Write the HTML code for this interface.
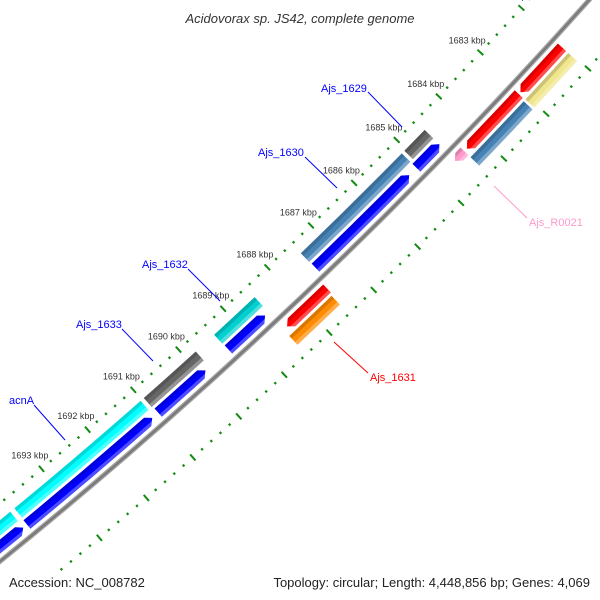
<!DOCTYPE html>
<html><head><meta charset="utf-8"><style>
html,body{margin:0;padding:0;background:#fff;overflow:hidden;}
svg{display:block;font-family:"Liberation Sans",sans-serif;}
</style></head><body>
<svg id="map" width="600" height="600" viewBox="0 0 600 600" xmlns="http://www.w3.org/2000/svg" overflow="hidden">
<defs id="defs"></defs>
<rect width="600" height="600" fill="#fff"/>
<g id="ticks"></g>
<g id="feats"></g>
<g id="backbone"></g>
<g id="labels"></g>
<g font-size="11">
  <line x1="368" y1="92" x2="402" y2="127" stroke="#0000ff"/>
  <text x="321" y="92" fill="#0000ff">Ajs_1629</text>
  <line x1="305" y1="157" x2="337" y2="188" stroke="#0000ff"/>
  <text x="258" y="156" fill="#0000ff">Ajs_1630</text>
  <line x1="188" y1="269" x2="220" y2="301" stroke="#0000ff"/>
  <text x="142" y="268" fill="#0000ff">Ajs_1632</text>
  <line x1="122" y1="329" x2="153" y2="361" stroke="#0000ff"/>
  <text x="76" y="328" fill="#0000ff">Ajs_1633</text>
  <line x1="34" y1="405" x2="65" y2="440" stroke="#0000ff"/>
  <text x="9" y="404" fill="#0000ff">acnA</text>
  <line x1="494" y1="186" x2="527" y2="218" stroke="#ff99cc"/>
  <text x="529" y="226" fill="#ff99cc">Ajs_R0021</text>
  <line x1="334" y1="342" x2="368" y2="373" stroke="#ff0000"/>
  <text x="370" y="381" fill="#ff0000">Ajs_1631</text>
</g>
<text x="300" y="23" text-anchor="middle" font-size="13" font-style="italic" fill="#333">Acidovorax sp. JS42, complete genome</text>
<text x="9" y="587" font-size="13" fill="#222">Accession: NC_008782</text>
<text x="590" y="587" text-anchor="end" font-size="13" fill="#222">Topology: circular; Length: 4,448,856 bp; Genes: 4,069</text>
</svg>
<script>
const featNames = ["red-a","red-b","ajs-r0021","ajs-1631-red","yellow-a","steelblue-a","orange-1631","ajs-1629","ajs-1630","ajs-1632","ajs-1633","acna","cyan-next","blue-a","blue-b","blue-c","blue-d","blue-e","blue-f"];
const featStart = [1682.03,1683.07,1684.36,1687.53,1682.03,1683.1,1687.56,1684.56,1685.1,1688.49,1689.81,1691.03,1693.85,1684.56,1685.27,1688.57,1689.9,1691.07,1693.85];
const featEnd   = [1683.03,1684.30,1684.58,1688.43,1683.06,1684.36,1688.51,1685.04,1687.44,1689.40,1690.96,1693.76,1695.0,1685.1,1687.43,1689.39,1690.94,1693.77,1695.0];
const featRing  = [1,1,1,1,2,2,2,-2,-2,-2,-2,-2,-2,-1,-1,-1,-1,-1,-1];
const featStrand= [1,1,1,1,0,0,0,0,0,0,0,0,0,-1,-1,-1,-1,-1,-1];
const featColor = ["#ff0000","#ff0000","#ff99cc","#ff0000","#f0e68c","#4682b4","#ff8c00","#666666","#4682b4","#00d0d0","#666666","#00ffff","#00ffff","#0000ff","#0000ff","#0000ff","#0000ff","#0000ff","#0000ff"];
const tickKbpMin = 1680, tickKbpMax = 1693.8;
const labelKbp = [1682,1683,1684,1685,1686,1687,1688,1689,1690,1691,1692,1693];

const CX=-3143.5, CY=-3326.9, R0=5000;
const NS="http://www.w3.org/2000/svg";
const ringR = {"-2":[4968,4980],"-1":[4983,4994],"1":[5006,5017],"2":[5020,5032]};
function ang(k){return (43+0.7*(k-1683))*Math.PI/180;}
function P(k,r){const a=ang(k);return [CX+r*Math.cos(a),CY+r*Math.sin(a)];}
function pt(p){return p[0].toFixed(2)+" "+p[1].toFixed(2);}
function sector(s,e,ri,ro){
  return "M"+pt(P(s,ro))+" A"+ro+" "+ro+" 0 0 1 "+pt(P(e,ro))+" L"+pt(P(e,ri))+" A"+ri+" "+ri+" 0 0 0 "+pt(P(s,ri))+" Z";
}
function arrow(s,e,ri,ro,strand){
  const h=Math.min(0.1,(e-s));const rm=(ri+ro)/2;
  if(strand<0){
    return "M"+pt(P(s+h,ro))+" A"+ro+" "+ro+" 0 0 1 "+pt(P(e,ro))+" L"+pt(P(e,ri))+" A"+ri+" "+ri+" 0 0 0 "+pt(P(s+h,ri))+" L"+pt(P(s,rm))+" Z";
  } else if(strand>0){
    return "M"+pt(P(s,ro))+" A"+ro+" "+ro+" 0 0 1 "+pt(P(e-h,ro))+" L"+pt(P(e,rm))+" L"+pt(P(e-h,ri))+" A"+ri+" "+ri+" 0 0 0 "+pt(P(s,ri))+" Z";
  }
  return sector(s,e,ri,ro);
}
const defs=document.getElementById("defs");
const fg=document.getElementById("feats");
for(let i=0;i<featNames.length;i++){
  const rr=ringR[String(featRing[i])];
  const d=arrow(featStart[i],featEnd[i],rr[0],rr[1],featStrand[i]);
  const cp=document.createElementNS(NS,"clipPath");cp.setAttribute("id","cp"+i);
  const cpp=document.createElementNS(NS,"path");cpp.setAttribute("d",d);cp.appendChild(cpp);defs.appendChild(cp);
  const g=document.createElementNS(NS,"g");
  
  
  const base=document.createElementNS(NS,"path");
  base.setAttribute("d",d);base.setAttribute("fill",featColor[i]);
  
  
  g.appendChild(base);
  const th=rr[1]-rr[0];
  const dark=document.createElementNS(NS,"path");
  dark.setAttribute("d",sector(featStart[i]-0.2,featEnd[i]+0.2,rr[0],rr[0]+th*0.3));
  dark.setAttribute("fill","#000");dark.setAttribute("fill-opacity","0.15");dark.setAttribute("clip-path","url(#cp"+i+")");
  
  
  g.appendChild(dark);
  const lite=document.createElementNS(NS,"path");
  lite.setAttribute("d",sector(featStart[i]-0.2,featEnd[i]+0.2,rr[1]-th*0.3,rr[1]));
  lite.setAttribute("fill","#fff");lite.setAttribute("fill-opacity","0.3");lite.setAttribute("clip-path","url(#cp"+i+")");
  
  
  g.appendChild(lite);
  fg.appendChild(g);
}
const bb=document.getElementById("backbone");
[[5,"#a8a8a8"],[2.5,"#7a7a7a"]].forEach(function(s){
  const c=document.createElementNS(NS,"circle");
  c.setAttribute("cx",CX);c.setAttribute("cy",CY);c.setAttribute("r",R0);
  c.setAttribute("fill","none");c.setAttribute("stroke",s[1]);c.setAttribute("stroke-width",s[0]);
  
  
  bb.appendChild(c);
});
const tg=document.getElementById("ticks");
for(let n=Math.round(tickKbpMin*5);n<=Math.round(tickKbpMax*5);n++){
  const k=n/5;const major=(n%5===0);
  [4955,5045].forEach(function(rc){
    const hl=major?4:1.2;
    const a=P(k,rc-hl),b=P(k,rc+hl);
    const l=document.createElementNS(NS,"line");
    l.setAttribute("x1",a[0]);l.setAttribute("y1",a[1]);l.setAttribute("x2",b[0]);l.setAttribute("y2",b[1]);
    l.setAttribute("stroke","#138a13");l.setAttribute("stroke-width",major?2:2.2);
    
    
    tg.appendChild(l);
  });
}
const lg=document.getElementById("labels");
labelKbp.forEach(function(k){
  const p=P(k,4937);
  const t=document.createElementNS(NS,"text");
  t.setAttribute("x",p[0]);t.setAttribute("y",p[1]+3.2);
  t.setAttribute("text-anchor","middle");t.setAttribute("font-size","9");t.setAttribute("fill","#333");
  
  
  t.textContent=k+" kbp";
  lg.appendChild(t);
});
</script>
</body></html>
